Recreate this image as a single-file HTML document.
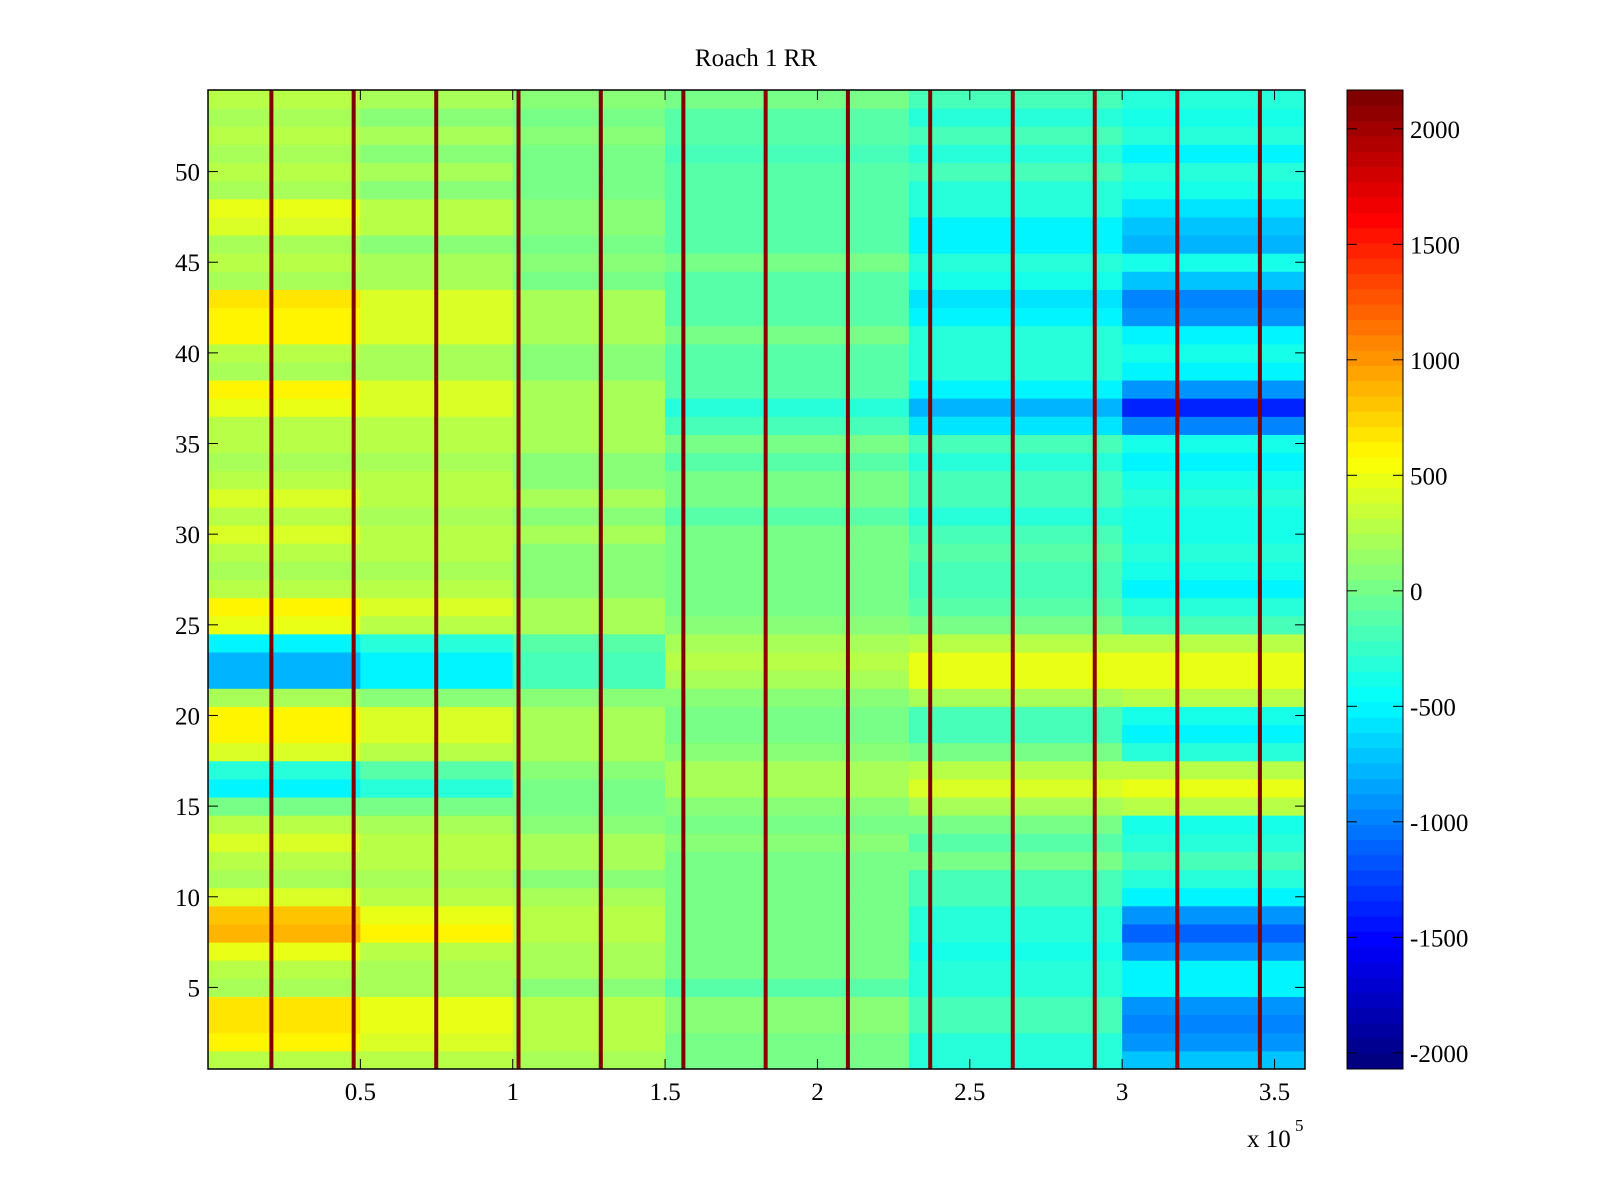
<!DOCTYPE html>
<html><head><meta charset="utf-8">
<style>
html,body{margin:0;padding:0;background:#fff;}
svg{display:block;font-family:"Liberation Serif",serif;}
</style></head>
<body>
<svg id="chart" width="1600" height="1200" viewBox="0 0 1600 1200" xmlns="http://www.w3.org/2000/svg">
<rect width="1600" height="1200" fill="#fff"/>
<text x="756" y="66" font-size="25" text-anchor="middle">Roach 1 RR</text>
<g id="cells"></g>
<g id="cbar"></g>
<g id="axes"></g>
</svg>
<script>
// zone boundaries in x units (samples)
const zoneEdges = [0, 50000, 100000, 150000, 230000, 300000, 360000];
// row values per zone (row 1 = bottom)
const rowValues = [
[300,300,200,0,-300,-700],
[600,400,300,0,-300,-900],
[700,500,300,100,-200,-1000],
[700,500,300,100,-200,-900],
[200,200,100,-100,-300,-500],
[300,200,200,0,-300,-500],
[500,300,200,0,-400,-900],
[900,600,300,0,-300,-1100],
[800,500,300,0,-300,-900],
[400,300,200,0,-200,-500],
[200,200,100,0,-200,-300],
[300,300,200,0,0,-200],
[400,300,200,100,-100,-300],
[300,200,100,0,0,-400],
[0,0,0,100,200,300],
[-500,-300,0,200,400,500],
[-300,-100,100,200,300,300],
[400,300,200,100,0,-300],
[600,400,200,0,-200,-500],
[600,400,200,0,-200,-400],
[200,100,100,100,200,300],
[-800,-500,-200,200,500,500],
[-800,-500,-200,300,500,500],
[-500,-300,-100,200,300,300],
[500,300,200,100,0,-200],
[600,400,200,0,-100,-300],
[300,300,100,0,-200,-500],
[200,200,100,0,-200,-400],
[300,300,100,0,-100,-300],
[400,300,200,0,-200,-400],
[300,200,100,-100,-300,-400],
[400,300,200,0,-200,-300],
[300,300,100,0,-200,-400],
[200,200,100,-100,-300,-500],
[300,300,200,0,-200,-400],
[300,300,200,-200,-600,-1000],
[500,400,200,-300,-800,-1400],
[600,400,200,-100,-500,-900],
[200,200,100,-100,-300,-500],
[300,200,100,-100,-300,-400],
[600,400,200,0,-300,-500],
[600,400,200,-100,-500,-900],
[700,400,200,-100,-600,-1000],
[200,200,0,-100,-400,-700],
[300,200,100,0,-300,-400],
[200,100,0,-100,-500,-800],
[400,300,100,-100,-500,-700],
[500,300,100,-100,-300,-600],
[200,100,0,-100,-300,-400],
[300,200,0,-100,-200,-300],
[200,100,0,-200,-300,-500],
[300,200,100,-100,-200,-300],
[200,100,0,-100,-300,-400],
[300,200,100,0,-200,-300]
];
// periodic spike columns
const spikeX = [20800,47800,74900,101900,128900,156000,183000,210000,237000,264100,291000,318100,345200];
const spikeVal = [2160,2160,2160,2160,2160,2160,2100,2160,2160,2100,2100,2000,2160];
const xTicks = [0.5e5,1e5,1.5e5,2e5,2.5e5,3e5,3.5e5];
const xTickLabels = ["0.5","1","1.5","2","2.5","3","3.5"];
const yTicks = [5,10,15,20,25,30,35,40,45,50];
const cTicks = [2000,1500,1000,500,0,-500,-1000,-1500,-2000];
const cMin = -2070, cMax = 2168;

const L=208,R=1305,T=90,B=1069;
const xMax=360000;
const sx=v=>L+(v/xMax)*(R-L);
const rowH=(B-T)/54;
const sy=r=>B-(r-0.5)*rowH;
const cy=v=>B-(v-cMin)/(cMax-cMin)*(B-T);
function jet(v){
  let t=(v-cMin)/(cMax-cMin); t=Math.max(0,Math.min(1,t));
  t=Math.floor(t*64)/63; t=Math.min(1,t);
  const f=x=>Math.max(0,Math.min(1,x));
  const r=f(1.5-Math.abs(4*t-3)), g=f(1.5-Math.abs(4*t-2)), b=f(1.5-Math.abs(4*t-1));
  return `rgb(${Math.round(r*255)},${Math.round(g*255)},${Math.round(b*255)})`;
}
const NS="http://www.w3.org/2000/svg";
function mk(tag,attrs,parent){const e=document.createElementNS(NS,tag);for(const k in attrs)e.setAttribute(k,attrs[k]);parent.appendChild(e);return e;}
const cells=document.getElementById('cells');
rowValues.forEach((row,i)=>{
  const r=i+1;
  row.forEach((v,j)=>{
    const x0=sx(zoneEdges[j]),x1=sx(zoneEdges[j+1]);
    const el=mk('rect',{x:x0,y:sy(r)-rowH/2,width:x1-x0+0.5,height:rowH+0.5,fill:jet(v)},cells);
    
    
  });
});
spikeX.forEach((x,i)=>{
  const el=mk('rect',{x:sx(x)-2,y:T,width:4,height:B-T,fill:jet(spikeVal[i])},cells);
  
  
});
// colorbar
const cb=document.getElementById('cbar');
const CL=1347,CR=1403;
for(let k=0;k<64;k++){
  const v0=cMin+(cMax-cMin)*k/64, v1=cMin+(cMax-cMin)*(k+1)/64;
  const el=mk('rect',{x:CL,y:cy(v1),width:CR-CL,height:cy(v0)-cy(v1)+0.5,fill:jet((v0+v1)/2)},cb);
  
  
}
mk('rect',{x:CL,y:T,width:CR-CL,height:B-T,fill:'none',stroke:'#000','stroke-width':1},cb);
cTicks.forEach(v=>{
  const y=cy(v);
  mk('line',{x1:CL,x2:CL+10,y1:y,y2:y,stroke:'#000'},cb);
  mk('line',{x1:CR-10,x2:CR,y1:y,y2:y,stroke:'#000'},cb);
  const t=mk('text',{x:CR+7,y:y+9,'font-size':25},cb);t.textContent=String(v);
  
  
});
// axes
const ax=document.getElementById('axes');
mk('rect',{x:L,y:T,width:R-L,height:B-T,fill:'none',stroke:'#000','stroke-width':1.5},ax);
xTicks.forEach((v,i)=>{
  const x=sx(v);
  mk('line',{x1:x,x2:x,y1:B,y2:B-10,stroke:'#000'},ax);
  mk('line',{x1:x,x2:x,y1:T,y2:T+10,stroke:'#000'},ax);
  const t=mk('text',{x:x,y:B+31,'font-size':25,'text-anchor':'middle'},ax);t.textContent=xTickLabels[i];
  
  
});
yTicks.forEach(v=>{
  const y=sy(v);
  mk('line',{x1:L,x2:L+10,y1:y,y2:y,stroke:'#000'},ax);
  mk('line',{x1:R-10,x2:R,y1:y,y2:y,stroke:'#000'},ax);
  const t=mk('text',{x:L-8,y:y+9,'font-size':25,'text-anchor':'end'},ax);t.textContent=String(v);
  
  
});
const ex=mk('text',{x:1247,y:1147,'font-size':25},ax);
ex.textContent='x 10';


const ex2=mk('text',{x:1295,y:1131,'font-size':17},ax);
ex2.textContent='5';


</script>
</body></html>
